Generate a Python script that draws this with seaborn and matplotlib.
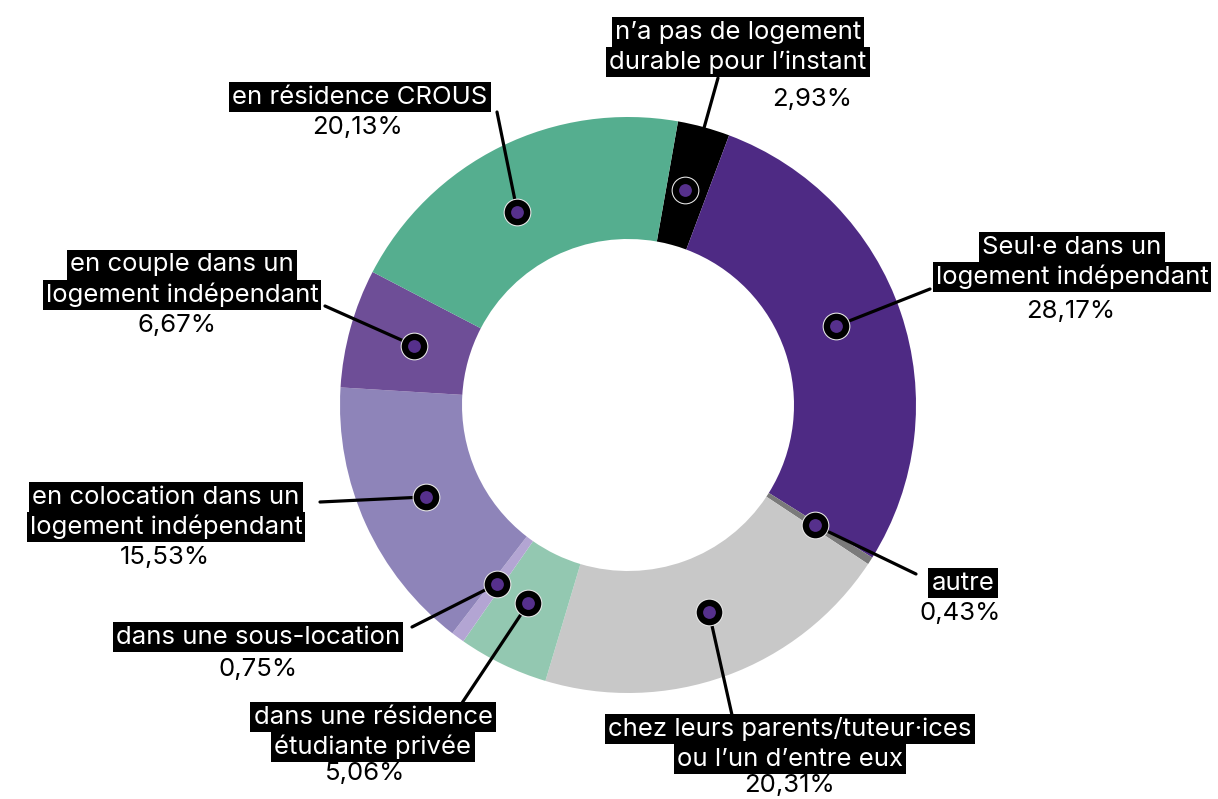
import numpy as np
import matplotlib.pyplot as plt
import seaborn as sns

# Data
categories = [
    "n\u2019a pas de logement\ndurable pour l\u2019instant",
    "Seul\u00b7e dans un\nlogement ind\u00e9pendant",
    "autre",
    "chez leurs parents/tuteur\u00b7ices\nou l\u2019un d\u2019entre eux",
    "dans une r\u00e9sidence\n\u00e9tudiante priv\u00e9e",
    "dans une sous-location",
    "en colocation dans un\nlogement ind\u00e9pendant",
    "en couple dans un\nlogement ind\u00e9pendant",
    "en r\u00e9sidence CROUS",
]
values = [2.93, 28.17, 0.43, 20.31, 5.06, 0.75, 15.53, 6.67, 20.13]
colors = ["#000000", "#4E2A84", "#7A7A7A", "#C8C8C8", "#93C8B1",
          "#B3A5D3", "#8E84B9", "#6E4E97", "#55AE8F"]

# layout (pixel coords, y from top)
W, H = 1218, 799
center = (628, 405)
r_out, r_in = 288, 166
dot_r = 222
dot_frac = [0.45, 0.48, 0.5, 0.48, 0.55, 0.5, 0.5, 0.5, 0.45]
label_xy = [(738, 47), (1072, 262), (963, 583), (790, 744), (373, 732),
            (258, 637), (166, 512), (182, 280), (360, 97)]
pct_xy = [(812, 99), (1071, 312), (960, 614), (790, 786), (365, 773),
          (258, 670), (165, 557), (177, 326), (358, 127)]
line_end = [(718, 78), (930, 289), (916, 574), (732, 715), (460, 706),
            (412, 627), (320, 502), (325, 306), (497, 112)]

sns.set_theme(style="white")
plt.rcParams['font.family'] = ['Inter', 'DejaVu Sans']

fig = plt.figure(figsize=(W / 100, H / 100), dpi=100)
ax = fig.add_axes([0, 0, 1, 1])

wedges, _ = ax.pie(values, colors=colors, startangle=80, counterclock=False,
                   center=(center[0], H - center[1]), radius=r_out,
                   wedgeprops=dict(width=r_out - r_in, linewidth=0))
ax.set_xlim(0, W)
ax.set_ylim(0, H)
ax.set_aspect('equal')
ax.axis('off')

fs = 18.5
for i, w in enumerate(wedges):
    th = np.deg2rad(w.theta2 - dot_frac[i] * (w.theta2 - w.theta1))
    dx = center[0] + dot_r * np.cos(th)
    dy = (H - center[1]) + dot_r * np.sin(th)
    ex, ey = line_end[i]
    if i == 0:
        # black slice: leader stops at the outer edge
        ax.plot([ex, 704], [H - ey, H - 128], color='black', lw=2.3, zorder=3)
    else:
        ax.plot([dx, ex], [dy, H - ey], color='black', lw=2.3, zorder=3)
    ax.scatter([dx], [dy], s=400, color='#E6E6E6', zorder=4, linewidths=0)
    ax.scatter([dx], [dy], s=340, color='black', zorder=5, linewidths=0)
    ax.scatter([dx], [dy], s=85, color='#56308C', zorder=6, linewidths=0)

    lines = categories[i].split('\n')
    lx, ly = label_xy[i]
    n = len(lines)
    for k, t in enumerate(lines):
        yy = ly + (k - (n - 1) / 2) * 30
        ax.text(lx, H - yy, t, color='white', fontsize=fs, ha='center',
                va='center', zorder=7,
                bbox=dict(boxstyle='square,pad=0.12', facecolor='black',
                          edgecolor='none'))
    px, py = pct_xy[i]
    pct = f"{values[i]:.2f}".replace('.', ',') + '%'
    ax.text(px, H - py, pct, color='black', fontsize=fs, ha='center',
            va='center', zorder=7)

fig.savefig('out.png', dpi=100)
